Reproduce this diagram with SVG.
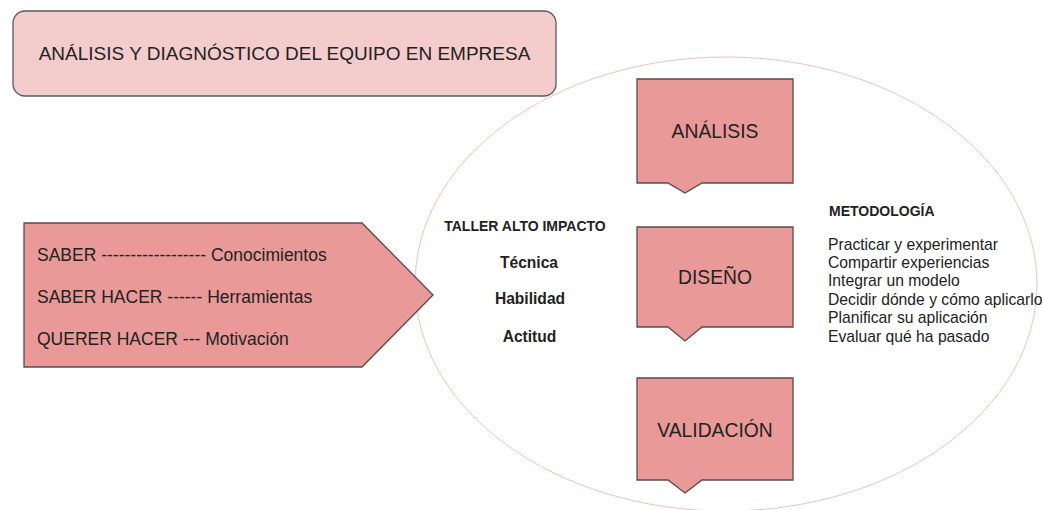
<svg xmlns="http://www.w3.org/2000/svg" width="1044" height="510" viewBox="0 0 1044 510">
<style>
.box{fill:#ea9999;stroke:#5b4a4a;stroke-width:1.3}
.t{font-family:"Liberation Sans",Arial,sans-serif;fill:#222}
.b{font-weight:bold}
.m{font-size:15.7px}
</style>
<rect width="1044" height="510" fill="#ffffff"/>
<g id="ellipse"><ellipse cx="726" cy="284" rx="311" ry="227" fill="none" stroke="#f0c0c0" stroke-width="1"/></g>
<g id="title">
<rect x="13" y="11" width="543" height="85" rx="12" fill="#f4cccc" stroke="#5b5b5b" stroke-width="1.3"/>
<text class="t" x="284.5" y="60" font-size="19" text-anchor="middle">ANÁLISIS Y DIAGNÓSTICO DEL EQUIPO EN EMPRESA</text>
</g>
<g id="saber">
<polygon class="box" points="24,223 362,223 433,295 362,367 24,367"/>
<text class="t" x="37" y="261" font-size="17.5">SABER ------------------ Conocimientos</text>
<text class="t" x="37" y="303" font-size="17.5">SABER HACER ------ Herramientas</text>
<text class="t" x="37" y="345" font-size="17.5">QUERER HACER --- Motivación</text>
</g>
<g id="taller">
<text class="t b" x="525" y="231" font-size="14" text-anchor="middle">TALLER ALTO IMPACTO</text>
<text class="t b" x="529" y="267.5" font-size="15.6" text-anchor="middle">Técnica</text>
<text class="t b" x="530" y="303.5" font-size="15.6" text-anchor="middle">Habilidad</text>
<text class="t b" x="529.5" y="341.5" font-size="15.6" text-anchor="middle">Actitud</text>
</g>
<g id="analisis">
<polygon class="box" points="637,79 793,79 793,183 702,183 685,193 668,183 637,183"/>
<text class="t" x="715" y="138" font-size="19.3" text-anchor="middle">ANÁLISIS</text>
</g>
<g id="diseno">
<polygon class="box" points="637,227 793,227 793,327 702,327 685,341 668,327 637,327"/>
<text class="t" x="715" y="284" font-size="19.3" text-anchor="middle">DISEÑO</text>
</g>
<g id="validacion">
<polygon class="box" points="637,378 793,378 793,480 702,480 685,493 668,480 637,480"/>
<text class="t" x="715" y="437" font-size="19.3" text-anchor="middle">VALIDACIÓN</text>
</g>
<g id="metodologia">
<text class="t b" x="829" y="216" font-size="14">METODOLOGÍA</text>
<text class="t m" x="828" y="249.5">Practicar y experimentar</text>
<text class="t m" x="828" y="267.5">Compartir experiencias</text>
<text class="t m" x="828" y="285.5">Integrar un modelo</text>
<text class="t m" x="828" y="304.5">Decidir dónde y cómo aplicarlo</text>
<text class="t m" x="828" y="322.5">Planificar su aplicación</text>
<text class="t m" x="828" y="341.5">Evaluar qué ha pasado</text>
</g>
<g id="connectors"></g>
</svg>
